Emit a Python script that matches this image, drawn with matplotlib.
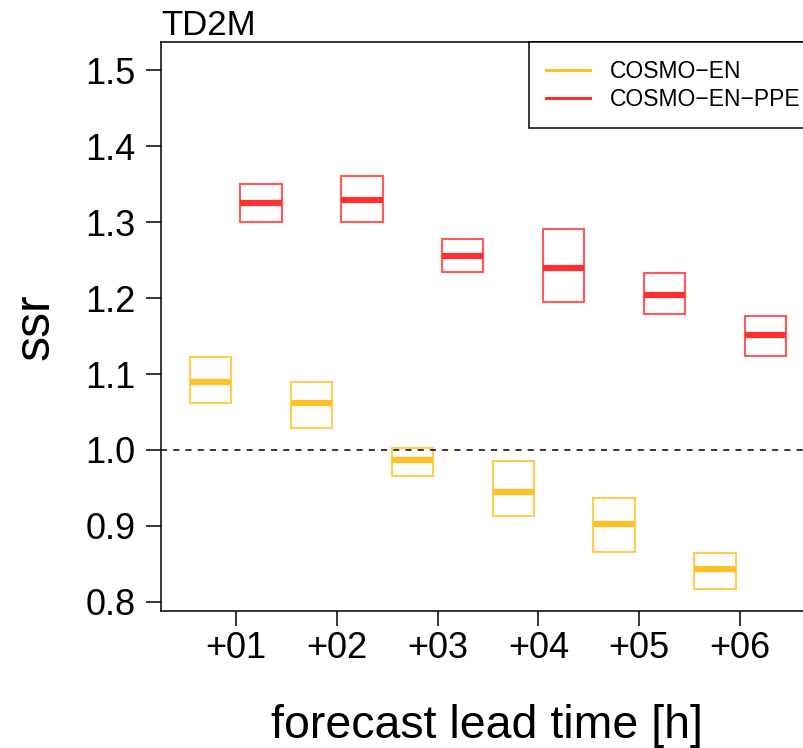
import numpy as np
import matplotlib
matplotlib.use("Agg")
import matplotlib.pyplot as plt

plt.rcParams['font.family'] = ['Liberation Sans', 'DejaVu Sans']

lead_labels = ['+01', '+02', '+03', '+04', '+05', '+06']

# COSMO-EN: lower, median, upper
en_low = [1.062, 1.029, 0.966, 0.913, 0.866, 0.817]
en_med = [1.090, 1.062, 0.987, 0.945, 0.902, 0.843]
en_up = [1.122, 1.089, 1.002, 0.986, 0.937, 0.864]

# COSMO-EN-PPE
ppe_low = [1.300, 1.300, 1.235, 1.195, 1.179, 1.124]
ppe_med = [1.325, 1.329, 1.256, 1.240, 1.2045, 1.151]
ppe_up = [1.351, 1.361, 1.278, 1.291, 1.2335, 1.176]

yellow = '#FFC125'
red = '#FF3030'

fig = plt.figure(figsize=(8.04, 7.48), dpi=100)
ax = fig.add_axes([0.2006, 0.1838, 0.8127, 0.7596])

x = np.arange(1, len(lead_labels) + 1)
w = 0.41

for off, low, med, up, col in [(-0.25, en_low, en_med, en_up, yellow),
                               (0.25, ppe_low, ppe_med, ppe_up, red)]:
    low = np.array(low)
    up = np.array(up)
    ax.bar(x + off, up - low, width=w, bottom=low, fill=False,
           edgecolor=col, linewidth=1.5, alpha=0.8)
    ax.hlines(med, x + off - w / 2, x + off + w / 2, color=col, linewidth=4.5)

ax.axhline(1.0, color='black', linestyle=(0, (4, 4)), linewidth=1.1)

ax.set_xlim(0.26, 6.74)
ax.set_ylim(0.7885, 1.537)
ax.set_xticks(x)
ax.set_xticklabels(lead_labels)
ax.set_yticks([0.8, 0.9, 1.0, 1.1, 1.2, 1.3, 1.4, 1.5])
ax.set_yticklabels(['0.8', '0.9', '1.0', '1.1', '1.2', '1.3', '1.4', '1.5'])
ax.tick_params(axis='both', length=10.5, width=1.1, labelsize=26, direction='out')
ax.tick_params(axis='y', pad=8)
ax.tick_params(axis='x', pad=4)
for s in ax.spines.values():
    s.set_linewidth(1.1)

ax.set_ylabel('ssr', fontsize=36, labelpad=19)
ax.set_xlabel('forecast lead time [h]', fontsize=33.5)
ax.xaxis.set_label_coords(0.4992, -0.165)
ax.set_title('TD2M', loc='left', fontsize=25, pad=4)

h1, = ax.plot([], [], color=yellow, linewidth=2.2)
h2, = ax.plot([], [], color=red, linewidth=2.2)
leg = ax.legend([h1, h2], ['COSMO\u2212EN', 'COSMO\u2212EN\u2212PPE'],
                loc='upper left', bbox_to_anchor=(0.5627, 1.0), borderaxespad=0,
                fontsize=16.5, fancybox=False, framealpha=1, edgecolor='black',
                handlelength=1.9, handletextpad=0.9, borderpad=0.75,
                labelspacing=0.25)
leg.get_frame().set_linewidth(1.1)

fig.savefig('out.png', dpi=100)
